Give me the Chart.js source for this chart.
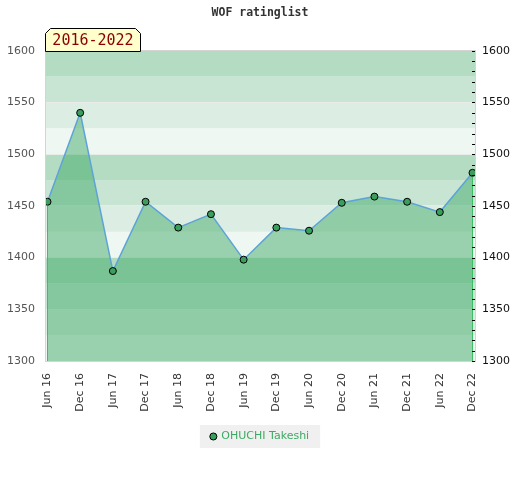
<!DOCTYPE html>
<html>
<head>
<meta charset="utf-8">
<title>WOF ratinglist</title>
<script src="https://cdn.jsdelivr.net/npm/chart.js@4/dist/chart.umd.min.js"></script>
<style>
  html, body { margin: 0; padding: 0; background: #fff; }
</style>
</head>
<body>
<canvas id="ratingChart" width="520" height="480"></canvas>
<script>
// --- Data ---
const titleText = 'WOF ratinglist';
const tabText = '2016-2022';
const playerName = 'OHUCHI Takeshi';
const periods = ['Jun 16', 'Dec 16', 'Jun 17', 'Dec 17', 'Jun 18', 'Dec 18', 'Jun 19',
                 'Dec 19', 'Jun 20', 'Dec 20', 'Jun 21', 'Dec 21', 'Jun 22', 'Dec 22'];
const ratings = [1454, 1540, 1387, 1454, 1429, 1442, 1398, 1429, 1426, 1453, 1459, 1454, 1444, 1482];
const yTicks = [1300, 1350, 1400, 1450, 1500, 1550, 1600];
const yMinorTicks = [1300, 1310, 1320, 1330, 1340, 1350, 1360, 1370, 1380, 1390,
                     1400, 1410, 1420, 1430, 1440, 1450, 1460, 1470, 1480, 1490,
                     1500, 1510, 1520, 1530, 1540, 1550, 1560, 1570, 1580, 1590, 1600];
const bandEdges = [1300, 1325, 1350, 1375, 1400, 1425, 1450, 1475, 1500, 1525, 1550, 1575, 1600];
const bandColors = ['#eef7f1', '#dcede3', '#c8e5d3', '#b3dcc2']; // repeats every 100 points

const frameColor = '#d4d4d4';

// striped background behind the plot
const bandPlugin = {
    id: 'bands',
    beforeDraw(chart) {
        const { ctx, chartArea: a, scales } = chart;
        const y = scales.y;
        ctx.save();
        for (let i = 0; i < bandEdges.length - 1; i++) {
            const top = y.getPixelForValue(bandEdges[i + 1]);
            const bottom = y.getPixelForValue(bandEdges[i]);
            ctx.fillStyle = bandColors[i % bandColors.length];
            ctx.fillRect(a.left, top, a.right - a.left, bottom - top);
        }
        // grey box behind the legend item
        const box = chart.legend && chart.legend.legendHitBoxes && chart.legend.legendHitBoxes[0];
        if (box) {
            ctx.fillStyle = '#f0f0f0';
            ctx.fillRect(box.left - 11, box.top - 6, box.width + 22, box.height + 12);
        }
        ctx.restore();
    }
};

// frame, end lines, minor ticks and the year tab
const decorPlugin = {
    id: 'decor',
    afterDatasetsDraw(chart) {
        const { ctx, chartArea: a } = chart;
        const pts = chart.getDatasetMeta(0).data;
        ctx.save();
        // frame
        ctx.strokeStyle = frameColor;
        ctx.lineWidth = 1;
        ctx.strokeRect(Math.round(a.left) + 0.5, Math.round(a.top) - 0.5,
                       Math.round(a.right - a.left), Math.round(a.bottom - a.top) + 1);
        // green verticals under first and last point
        ctx.strokeStyle = '#3cbf62';
        [pts[0], pts[pts.length - 1]].forEach(p => {
            ctx.beginPath();
            ctx.moveTo(Math.floor(p.x) + 0.5, p.y + 4);
            ctx.lineTo(Math.floor(p.x) + 0.5, a.bottom);
            ctx.stroke();
        });
        // minor ticks on right side, inside the plot
        const y2 = chart.scales.y2;
        ctx.strokeStyle = '#000';
        yMinorTicks.forEach(v => {
            const py = Math.round(y2.getPixelForValue(v)) + 0.5;
            ctx.beginPath();
            ctx.moveTo(a.right - 3, py);
            ctx.lineTo(a.right, py);
            ctx.stroke();
        });
        ctx.restore();
    },
    afterDraw(chart) {
        const { ctx, chartArea: a } = chart;
        const l = Math.round(a.left) + 0.5, r = l + 95, t = 28.5, b = Math.round(a.top) + 0.5, c = 5;
        ctx.save();
        ctx.beginPath();
        ctx.moveTo(l, b);
        ctx.lineTo(l, t + c);
        ctx.lineTo(l + c, t);
        ctx.lineTo(r - c, t);
        ctx.lineTo(r, t + c);
        ctx.lineTo(r, b);
        ctx.closePath();
        ctx.fillStyle = '#ffffcc';
        ctx.fill();
        ctx.strokeStyle = '#000';
        ctx.lineWidth = 1;
        ctx.stroke();
        ctx.fillStyle = '#8b0000';
        ctx.font = '15px "DejaVu Sans Mono"';
        ctx.textAlign = 'center';
        ctx.textBaseline = 'middle';
        ctx.fillText(tabText, (l + r) / 2, (t + b) / 2 + 1);
        ctx.restore();
    }
};

const tickFont = { family: 'DejaVu Sans', size: 11 };

new Chart(document.getElementById('ratingChart'), {
    type: 'line',
    data: {
        datasets: [{
            label: playerName,
            data: ratings.map((v, i) => ({ x: i, y: v })),
            yAxisID: 'y',
            fill: 'start',
            backgroundColor: 'rgba(60, 168, 100, 0.48)',
            borderColor: '#5ea3d8',
            borderWidth: 1.5,
            tension: 0,
            pointRadius: 3.5,
            pointHoverRadius: 3.5,
            pointBackgroundColor: '#3a9e5c',
            pointBorderColor: '#000',
            pointBorderWidth: 1
        }]
    },
    options: {
        responsive: false,
        animation: false,
        layout: { padding: { top: 0, left: 0, right: 0, bottom: 28 } },
        plugins: {
            title: {
                display: true,
                text: titleText,
                color: '#333',
                font: { family: 'DejaVu Sans Mono', size: 11.5, weight: 'bold' },
                padding: { top: 6, bottom: 31 }
            },
            legend: {
                position: 'bottom',
                labels: {
                    color: '#3caa64',
                    font: tickFont,
                    usePointStyle: true,
                    pointStyle: 'circle',
                    boxWidth: 5,
                    boxHeight: 5,
                    padding: 10,
                    generateLabels(chart) {
                        return Chart.defaults.plugins.legend.labels.generateLabels(chart).map(item => {
                            item.fillStyle = '#3a9e5c';
                            item.strokeStyle = '#000';
                            item.lineWidth = 1;
                            return item;
                        });
                    }
                }
            },
            tooltip: { enabled: false }
        },
        scales: {
            x: {
                type: 'linear',
                min: -0.076,
                max: periods.length - 1 + 0.076,
                afterBuildTicks(scale) { scale.ticks = periods.map((p, i) => ({ value: i })); },
                afterFit(scale) { scale.height = 60; },
                ticks: {
                    color: '#333',
                    font: tickFont,
                    autoSkip: false,
                    minRotation: 90,
                    maxRotation: 90,
                    padding: 12,
                    callback: (value) => periods[value]
                },
                grid: { display: false, drawTicks: false },
                border: { display: false }
            },
            y: {
                position: 'left',
                min: yTicks[0],
                max: yTicks[yTicks.length - 1],
                afterBuildTicks(scale) { scale.ticks = yTicks.map(v => ({ value: v })); },
                afterFit(scale) { scale.width = 45; },
                ticks: { color: '#555', font: tickFont, padding: 10, callback: (value) => String(value) },
                grid: { color: 'rgba(236, 236, 236, 0.85)', drawTicks: false },
                border: { display: false }
            },
            y2: {
                position: 'right',
                min: yTicks[0],
                max: yTicks[yTicks.length - 1],
                afterBuildTicks(scale) { scale.ticks = yMinorTicks.map(v => ({ value: v })); },
                afterFit(scale) { scale.width = 45; },
                ticks: {
                    color: '#111',
                    font: tickFont,
                    padding: 7,
                    autoSkip: false,
                    callback: (value) => yTicks.includes(value) ? String(value) : ''
                },
                grid: { display: false, drawTicks: false },
                border: { display: false }
            }
        }
    },
    plugins: [bandPlugin, decorPlugin]
});
</script>
</body>
</html>
